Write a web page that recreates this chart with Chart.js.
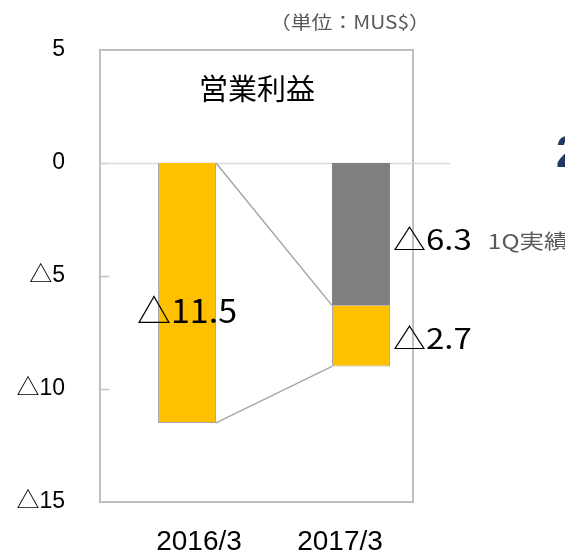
<!DOCTYPE html>
<html>
<head>
<meta charset="utf-8">
<script src="https://cdn.jsdelivr.net/npm/chart.js@4.4.1/dist/chart.umd.min.js"></script>
<style>
  html, body { margin: 0; padding: 0; background: #fff; }
  #wrap { width: 565px; height: 553px; }
</style>
</head>
<body>
<div id="wrap"><canvas id="opChart" width="565" height="553"></canvas></div>
<script>
// --- data ---
const categories = ['2016/3', '2017/3'];
const actual1Q = [null, -6.3];      // grey part (1Q result)
const restValues = [-11.5, -2.7];   // orange part
const yTicks = [5, 0, -5, -10, -15];
const chartTitle = '営業利益';
const unitText = '（単位：MUS$）';
const noteText = '1Q実績';

const CJK = '"Noto Sans CJK JP", "Noto Sans", sans-serif';
const ARIAL = '"Liberation Sans", "Noto Sans CJK JP", sans-serif';

function fmt(v) {
    return v < 0 ? '△' + Math.abs(v) : String(v);
}

// text slightly stretched sideways like the original slide
function wideText(ctx, text, x, y, sx) {
    ctx.save();
    ctx.translate(x, y);
    ctx.scale(sx, 1);
    ctx.fillText(text, 0, 0);
    ctx.restore();
    return ctx.measureText(text).width * sx;
}

// frame, zero line, inner ticks, connector lines
const decorPlugin = {
    id: 'decor',
    beforeDatasetsDraw(chart) {
        const ctx = chart.ctx;
        const area = chart.chartArea;
        const y = chart.scales.y;
        const frameRight = 413;
        ctx.save();
        ctx.strokeStyle = '#BFBFBF';
        ctx.lineWidth = 2;
        ctx.strokeRect(area.left, area.top, frameRight - area.left, area.bottom - area.top);
        // inner ticks
        ctx.lineWidth = 1.5;
        yTicks.forEach(v => {
            if (v === yTicks[0] || v === yTicks[yTicks.length - 1]) return;
            const py = Math.round(y.getPixelForValue(v)) + 0.5;
            ctx.beginPath();
            ctx.moveTo(area.left, py);
            ctx.lineTo(area.left + 9, py);
            ctx.stroke();
        });
        // zero line
        const y0 = Math.round(y.getPixelForValue(0)) + 0.5;
        ctx.strokeStyle = '#D9D9D9';
        ctx.beginPath();
        ctx.moveTo(area.left, y0);
        ctx.lineTo(area.right + 2, y0);
        ctx.stroke();
        ctx.restore();
    },
    afterDatasetsDraw(chart) {
        const ctx = chart.ctx;
        const y = chart.scales.y;
        const greyMeta = chart.getDatasetMeta(0).data;
        const orangeMeta = chart.getDatasetMeta(1).data;
        const b1 = orangeMeta[0];
        const g2 = greyMeta[1];
        const o2 = orangeMeta[1];
        const r1 = b1.x + b1.width / 2;
        const l2 = g2.x - g2.width / 2;
        ctx.save();
        ctx.strokeStyle = '#A6A6A6';
        ctx.lineWidth = 1.5;
        ctx.beginPath();
        ctx.moveTo(r1, y.getPixelForValue(0));
        ctx.lineTo(l2, g2.y);
        ctx.moveTo(r1, b1.y);
        ctx.lineTo(l2, o2.y);
        ctx.stroke();
        ctx.restore();
    },
    afterDraw(chart) {
        const ctx = chart.ctx;
        const greyMeta = chart.getDatasetMeta(0).data;
        const orangeMeta = chart.getDatasetMeta(1).data;
        ctx.save();
        ctx.fillStyle = '#000';
        ctx.textBaseline = 'middle';

        // value labels
        const b1 = orangeMeta[0];
        ctx.font = '33px ' + CJK;
        ctx.textAlign = 'center';
        wideText(ctx, fmt(restValues[0]), b1.x, (b1.y + b1.base) / 2 + 18, 1.03);

        const g2 = greyMeta[1];
        const o2 = orangeMeta[1];
        const right2 = g2.x + g2.width / 2 + 3;
        ctx.textAlign = 'left';
        ctx.font = '28px ' + CJK;
        const w1 = wideText(ctx, fmt(actual1Q[1]), right2, (g2.y + g2.base) / 2 + 5, 1.18);
        wideText(ctx, fmt(restValues[1]), right2, (o2.y + o2.base) / 2 + 2, 1.18);

        ctx.font = '20px ' + CJK;
        ctx.fillStyle = '#595959';
        wideText(ctx, noteText, right2 + w1 + 16, (g2.y + g2.base) / 2 + 7, 1.22);

        // title + unit
        ctx.fillStyle = '#000';
        ctx.textAlign = 'center';
        ctx.font = '29px ' + CJK;
        ctx.fillText(chartTitle, 257, 89);

        ctx.fillStyle = '#595959';
        ctx.textAlign = 'right';
        ctx.font = '18px ' + CJK;
        wideText(ctx, unitText, 430, 22, 1.16);

        // category labels (placed as text boxes under the frame)
        ctx.fillStyle = '#000';
        ctx.textAlign = 'center';
        ctx.font = '28px ' + ARIAL;
        const labelX = [199, 340];
        categories.forEach((c, i) => ctx.fillText(c, labelX[i], 542));

        // cut-off neighbouring heading
        ctx.fillStyle = '#1F3864';
        ctx.textAlign = 'left';
        ctx.font = 'bold 44px ' + ARIAL;
        ctx.fillText('2', 556, 155);
        ctx.restore();
    }
};

const ctx = document.getElementById('opChart').getContext('2d');
new Chart(ctx, {
    type: 'bar',
    data: {
        labels: categories,
        datasets: [
            {
                label: '1Q実績',
                data: actual1Q,
                backgroundColor: '#7F7F7F',
                borderWidth: 0,
                barPercentage: 1,
                categoryPercentage: 0.333
            },
            {
                label: 'その他',
                data: restValues,
                backgroundColor: '#FFC000',
                borderColor: '#A6A6A6',
                borderWidth: 1,
                barPercentage: 1,
                categoryPercentage: 0.333
            }
        ]
    },
    options: {
        responsive: false,
        animation: false,
        devicePixelRatio: 1,
        layout: { padding: { top: 50, right: 117, left: 0, bottom: 0 } },
        plugins: {
            legend: { display: false },
            tooltip: { enabled: false }
        },
        scales: {
            x: {
                stacked: true,
                grid: { display: false, drawTicks: false },
                border: { display: false },
                ticks: { display: false },
                afterFit(scale) { scale.height = 51; }
            },
            y: {
                stacked: true,
                min: -15,
                max: 5,
                afterBuildTicks(scale) { scale.ticks = yTicks.map(v => ({ value: v })); },
                grid: { display: false, drawTicks: false },
                border: { display: false },
                ticks: {
                    padding: 35,
                    color: '#000',
                    font: { family: ARIAL, size: 23 },
                    callback: v => fmt(v)
                },
                afterFit(scale) { scale.width = 100; }
            }
        }
    },
    plugins: [decorPlugin]
});
</script>
</body>
</html>
